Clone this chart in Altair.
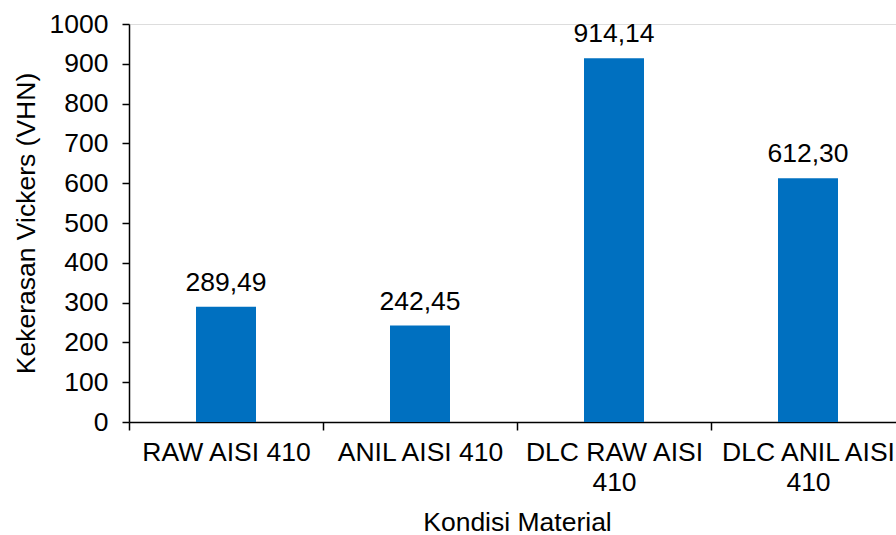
import altair as alt
import pandas as pd

# Vickers hardness per material condition
kondisi = ["RAW AISI 410", "ANIL AISI 410", "DLC RAW AISI 410", "DLC ANIL AISI 410"]
kekerasan = [289.49, 242.45, 914.14, 612.30]
y_ticks = [0, 100, 200, 300, 400, 500, 600, 700, 800, 900, 1000]

df = pd.DataFrame({"kondisi": kondisi, "vhn": kekerasan})
df["label"] = [f"{v:.2f}".replace(".", ",") for v in df["vhn"]]

FONT = "Liberation Sans"
BLUE = "#0070C0"
FS = 26.5

x = alt.X(
    "kondisi:N",
    sort=kondisi,
    scale=alt.Scale(range=[0, 776], paddingInner=0, paddingOuter=0),
    axis=alt.Axis(
        title="Kondisi Material",
        titleFont=FONT,
        titleFontSize=FS,
        titleFontWeight="normal",
        titleColor="black",
        titleX=388,
        titleY=108,
        titleAlign="center",
        titleBaseline="alphabetic",
        labelFont=FONT,
        labelFontSize=FS,
        labelColor="black",
        labelAngle=0,
        labelPadding=9,
        labelLineHeight=30,
        labelOverlap=False,
        labelExpr=(
            "length(datum.label) > 14 ? "
            "[substring(datum.label, 0, lastindexof(datum.label, ' ')), "
            "substring(datum.label, lastindexof(datum.label, ' ') + 1)] : datum.label"
        ),
        tickBand="extent",
        tickSize=8,
        tickColor="black",
        tickWidth=1.5,
        domainColor="black",
        domainWidth=1.5,
        grid=False,
    ),
)

y = alt.Y(
    "vhn:Q",
    scale=alt.Scale(domain=[0, 1000], nice=False),
    axis=alt.Axis(
        title="Kekerasan Vickers (VHN)",
        titleFont=FONT,
        titleFontSize=FS,
        titleFontWeight="normal",
        titleColor="black",
        titleAngle=270,
        titleX=-95,
        titleY=199,
        titleAlign="center",
        titleBaseline="alphabetic",
        values=y_ticks,
        format="d",
        labelOverlap=False,
        labelFont=FONT,
        labelFontSize=FS,
        labelColor="black",
        labelPadding=14,
        tickSize=7,
        tickColor="black",
        tickWidth=1.5,
        domainColor="black",
        domainWidth=1.5,
        grid=False,
    ),
)

base = alt.Chart(df).encode(x=x, y=y)

bars = base.mark_bar(color=BLUE, size=60)

labels = base.mark_text(
    font=FONT, fontSize=FS, color="black", baseline="alphabetic", dy=-16
).encode(text="label:N")

chart = (
    alt.layer(bars, labels)
    .properties(
        width=767,
        height=398,
        autosize=alt.AutoSizeParams(type="none"),
        padding={"left": 129, "top": 24, "right": 0, "bottom": 113},
    )
    .configure_view(stroke=None)
    .configure(background="white")
)

chart.save("out.html", embed_options={"renderer": "svg", "actions": False})
